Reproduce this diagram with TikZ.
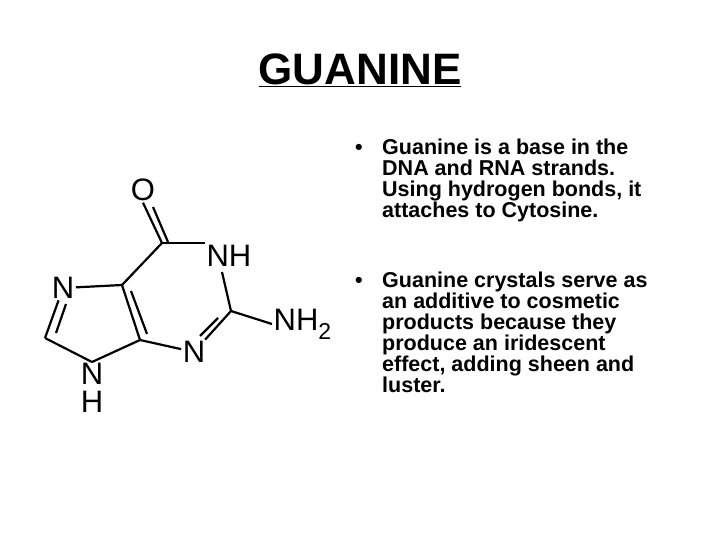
\documentclass[tikz,border=0pt]{standalone}
\usepackage{fontspec}
\setmainfont{Liberation Sans}
\begin{document}
\begin{tikzpicture}[x=1pt,y=-1pt,
  atom/.style={inner sep=1.5pt,font=\fontsize{31}{31}\selectfont},
  bond/.style={line width=2.2pt},
  bul/.style={anchor=north west,align=left,font=\fontsize{21.5}{21}\selectfont\bfseries,inner sep=0pt}]
\useasboundingbox (0,0) rectangle (720,540);
\node[font=\fontsize{44}{44}\selectfont\bfseries] (title) at (360,70) {\underline{GUANINE}};
\node[bul] (b1) at (355,139) {\makebox[27pt][l]{\textbullet}Guanine is a base in the\\\hspace{27pt}DNA and RNA strands.\\\hspace{27pt}Using hydrogen bonds, it\\\hspace{27pt}attaches to Cytosine.};
\node[bul] (b2) at (355,272) {\makebox[27pt][l]{\textbullet}Guanine crystals serve as\\\hspace{27pt}an additive to cosmetic\\\hspace{27pt}products because they\\\hspace{27pt}produce an iridescent\\\hspace{27pt}effect, adding sheen and\\\hspace{27pt}luster.};
% atoms
\node[atom] (O) at (143,190) {O};
\coordinate (C6) at (162,243);
\node[atom] (N1) at (229,256) {NH};
\coordinate (C2) at (231,311);
\node[atom,anchor=west] (NH2) at (272,324) {NH\raisebox{-0.3em}{\fontsize{23}{23}\selectfont 2}};
\node[atom] (N3) at (194,352) {N};
\coordinate (C4) at (140,340);
\coordinate (C5) at (122,285);
\node[atom] (N7) at (63,288) {N};
\coordinate (C8) at (45,338);
\node[atom,align=center,font=\fontsize{31}{28}\selectfont] (N9) at (92,388) {N\\H};
\coordinate (N1b) at (222,272);
\coordinate (N9t) at (92,362);
% inner lines of double bonds
\coordinate (o1) at (153,207); \coordinate (o2) at (168,242);
\coordinate (d1) at (131,291); \coordinate (d2) at (147,334);
\coordinate (e1) at (218,318); \coordinate (e2) at (200,336);
\coordinate (f1) at (66,304); \coordinate (f2) at (56,333);
% bonds
\draw[bond] (C6) -- (O.south);
\draw[bond] (o2) -- (o1);
\draw[bond] (C6) -- (N1.west |- C6);
\draw[bond] (N1b) -- (C2);
\draw[bond] (C2) -- (N3);
\draw[bond] (e1) -- (e2);
\draw[bond] (C2) -- (NH2.west);
\draw[bond] (N3) -- (C4);
\draw[bond] (C4) -- (C5);
\draw[bond] (d1) -- (d2);
\draw[bond] (C5) -- (C6);
\draw[bond] (C5) -- (N7);
\draw[bond] (N7) -- (C8);
\draw[bond] (f1) -- (f2);
\draw[bond] (C8) -- (N9t);
\draw[bond] (N9t) -- (C4);
\end{tikzpicture}
\end{document}
